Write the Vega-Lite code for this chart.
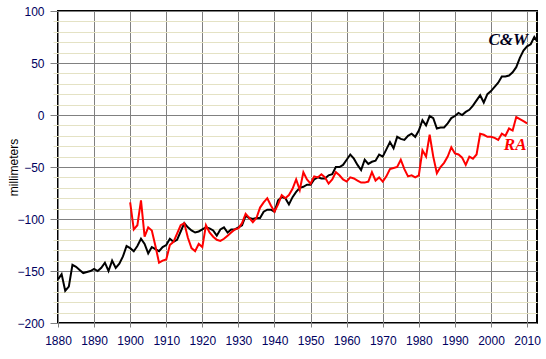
{
  "$schema": "https://vega.github.io/schema/vega-lite/v6.json",
  "autosize": "none",
  "width": 479,
  "height": 312,
  "padding": {"left": 58, "top": 11, "right": 9, "bottom": 36},
  "background": "white",
  "config": {
    "view": {"stroke": "black", "strokeWidth": 2},
    "font": "Liberation Sans"
  },
  "resolve": {"axis": {"y": "independent"}, "scale": {"y": "shared"}},
  "datasets": {
    "cw": [
      {"year":1880,"mm":-158},{"year":1881,"mm":-153},{"year":1882,"mm":-169},{"year":1883,"mm":-165},{"year":1884,"mm":-144},
      {"year":1885,"mm":-146},{"year":1886,"mm":-149},{"year":1887,"mm":-152},{"year":1888,"mm":-151},{"year":1889,"mm":-150},
      {"year":1890,"mm":-148},{"year":1891,"mm":-150},{"year":1892,"mm":-147},{"year":1893,"mm":-142},{"year":1894,"mm":-150},
      {"year":1895,"mm":-140},{"year":1896,"mm":-147},{"year":1897,"mm":-143},{"year":1898,"mm":-136},{"year":1899,"mm":-126},
      {"year":1900,"mm":-128},{"year":1901,"mm":-131},{"year":1902,"mm":-126},{"year":1903,"mm":-119},{"year":1904,"mm":-124},
      {"year":1905,"mm":-133},{"year":1906,"mm":-127},{"year":1907,"mm":-129},{"year":1908,"mm":-131},{"year":1909,"mm":-127},
      {"year":1910,"mm":-125},{"year":1911,"mm":-119},{"year":1912,"mm":-122},{"year":1913,"mm":-120},{"year":1914,"mm":-112},
      {"year":1915,"mm":-104},{"year":1916,"mm":-108},{"year":1917,"mm":-111},{"year":1918,"mm":-113},{"year":1919,"mm":-112},
      {"year":1920,"mm":-110},{"year":1921,"mm":-108},{"year":1922,"mm":-109},{"year":1923,"mm":-111},{"year":1924,"mm":-116},
      {"year":1925,"mm":-110},{"year":1926,"mm":-108},{"year":1927,"mm":-113},{"year":1928,"mm":-110},{"year":1929,"mm":-110},
      {"year":1930,"mm":-108},{"year":1931,"mm":-106},{"year":1932,"mm":-97},{"year":1933,"mm":-99},{"year":1934,"mm":-100},
      {"year":1935,"mm":-99},{"year":1936,"mm":-99},{"year":1937,"mm":-93},{"year":1938,"mm":-91},{"year":1939,"mm":-91},
      {"year":1940,"mm":-93},{"year":1941,"mm":-82},{"year":1942,"mm":-79},{"year":1943,"mm":-80},{"year":1944,"mm":-86},
      {"year":1945,"mm":-79},{"year":1946,"mm":-74},{"year":1947,"mm":-70},{"year":1948,"mm":-69},{"year":1949,"mm":-67},
      {"year":1950,"mm":-67},{"year":1951,"mm":-62},{"year":1952,"mm":-60},{"year":1953,"mm":-61},{"year":1954,"mm":-61},
      {"year":1955,"mm":-58},{"year":1956,"mm":-57},{"year":1957,"mm":-50},{"year":1958,"mm":-50},{"year":1959,"mm":-48},
      {"year":1960,"mm":-43},{"year":1961,"mm":-38},{"year":1962,"mm":-42},{"year":1963,"mm":-48},{"year":1964,"mm":-53},
      {"year":1965,"mm":-43},{"year":1966,"mm":-47},{"year":1967,"mm":-45},{"year":1968,"mm":-44},{"year":1969,"mm":-38},
      {"year":1970,"mm":-40},{"year":1971,"mm":-33},{"year":1972,"mm":-26},{"year":1973,"mm":-32},{"year":1974,"mm":-21},
      {"year":1975,"mm":-23},{"year":1976,"mm":-24},{"year":1977,"mm":-20},{"year":1978,"mm":-18},{"year":1979,"mm":-21},
      {"year":1980,"mm":-15},{"year":1981,"mm":-5},{"year":1982,"mm":-10},{"year":1983,"mm":-1},{"year":1984,"mm":-3},
      {"year":1985,"mm":-13},{"year":1986,"mm":-12},{"year":1987,"mm":-12},{"year":1988,"mm":-8},{"year":1989,"mm":-3},
      {"year":1990,"mm":-1},{"year":1991,"mm":2},{"year":1992,"mm":0},{"year":1993,"mm":3},{"year":1994,"mm":5},
      {"year":1995,"mm":9},{"year":1996,"mm":14},{"year":1997,"mm":19},{"year":1998,"mm":12},{"year":1999,"mm":20},
      {"year":2000,"mm":23},{"year":2001,"mm":27},{"year":2002,"mm":31},{"year":2003,"mm":37},{"year":2004,"mm":37},
      {"year":2005,"mm":38},{"year":2006,"mm":41},{"year":2007,"mm":46},{"year":2008,"mm":55},{"year":2009,"mm":62},
      {"year":2010,"mm":66},{"year":2011,"mm":68},{"year":2012,"mm":75},{"year":2012.75,"mm":71}
    ],
    "ra": [
      {"year":1900,"mm":-84},{"year":1901,"mm":-110},{"year":1902,"mm":-106},{"year":1903,"mm":-82},{"year":1904,"mm":-117},
      {"year":1905,"mm":-108},{"year":1906,"mm":-111},{"year":1907,"mm":-126},{"year":1908,"mm":-142},{"year":1909,"mm":-140},
      {"year":1910,"mm":-139},{"year":1911,"mm":-125},{"year":1912,"mm":-122},{"year":1913,"mm":-114},{"year":1914,"mm":-106},
      {"year":1915,"mm":-104},{"year":1916,"mm":-118},{"year":1917,"mm":-128},{"year":1918,"mm":-131},{"year":1919,"mm":-124},
      {"year":1920,"mm":-127},{"year":1921,"mm":-106},{"year":1922,"mm":-113},{"year":1923,"mm":-117},{"year":1924,"mm":-120},
      {"year":1925,"mm":-121},{"year":1926,"mm":-119},{"year":1927,"mm":-116},{"year":1928,"mm":-113},{"year":1929,"mm":-110},
      {"year":1930,"mm":-109},{"year":1931,"mm":-104},{"year":1932,"mm":-95},{"year":1933,"mm":-99},{"year":1934,"mm":-103},
      {"year":1935,"mm":-99},{"year":1936,"mm":-89},{"year":1937,"mm":-84},{"year":1938,"mm":-80},{"year":1939,"mm":-87},
      {"year":1940,"mm":-93},{"year":1941,"mm":-86},{"year":1942,"mm":-77},{"year":1943,"mm":-80},{"year":1944,"mm":-77},
      {"year":1945,"mm":-71},{"year":1946,"mm":-62},{"year":1947,"mm":-72},{"year":1948,"mm":-55},{"year":1949,"mm":-62},
      {"year":1950,"mm":-66},{"year":1951,"mm":-59},{"year":1952,"mm":-60},{"year":1953,"mm":-57},{"year":1954,"mm":-60},
      {"year":1955,"mm":-66},{"year":1956,"mm":-62},{"year":1957,"mm":-55},{"year":1958,"mm":-58},{"year":1959,"mm":-62},
      {"year":1960,"mm":-64},{"year":1961,"mm":-60},{"year":1962,"mm":-61},{"year":1963,"mm":-63},{"year":1964,"mm":-65},
      {"year":1965,"mm":-65},{"year":1966,"mm":-64},{"year":1967,"mm":-55},{"year":1968,"mm":-63},{"year":1969,"mm":-60},
      {"year":1970,"mm":-64},{"year":1971,"mm":-59},{"year":1972,"mm":-52},{"year":1973,"mm":-51},{"year":1974,"mm":-50},
      {"year":1975,"mm":-43},{"year":1976,"mm":-52},{"year":1977,"mm":-59},{"year":1978,"mm":-58},{"year":1979,"mm":-60},
      {"year":1980,"mm":-58},{"year":1981,"mm":-34},{"year":1982,"mm":-40},{"year":1983,"mm":-19},{"year":1984,"mm":-40},
      {"year":1985,"mm":-56},{"year":1986,"mm":-50},{"year":1987,"mm":-46},{"year":1988,"mm":-40},{"year":1989,"mm":-31},
      {"year":1990,"mm":-37},{"year":1991,"mm":-38},{"year":1992,"mm":-41},{"year":1993,"mm":-48},{"year":1994,"mm":-40},
      {"year":1995,"mm":-42},{"year":1996,"mm":-38},{"year":1997,"mm":-18},{"year":1998,"mm":-19},{"year":1999,"mm":-21},
      {"year":2000,"mm":-21},{"year":2001,"mm":-22},{"year":2002,"mm":-24},{"year":2003,"mm":-18},{"year":2004,"mm":-20},
      {"year":2005,"mm":-13},{"year":2006,"mm":-15},{"year":2007,"mm":-2},{"year":2008,"mm":-4},{"year":2009,"mm":-6},
      {"year":2010,"mm":-8}
    ],
    "labels": [
      {"year":2004.8,"mm":72,"label":"C&W","series":"C&W"},
      {"year":2006.7,"mm":-29,"label":"RA","series":"RA"}
    ]
  },
  "encoding": {
    "x": {
      "field": "year", "type": "quantitative",
      "scale": {"domain": [1880, 2012.75], "nice": false, "zero": false},
      "axis": {
        "values": [1880,1890,1900,1910,1920,1930,1940,1950,1960,1970,1980,1990,2000,2010],
        "format": "d", "title": null,
        "grid": true, "gridColor": "#808080", "gridWidth": 1,
        "domain": false,
        "tickColor": "#808080", "tickSize": 4, "tickWidth": 1,
        "labelFont": "Liberation Sans", "labelFontSize": 12, "labelColor": "#000060",
        "labelPadding": 8, "labelFlush": false, "labelOverlap": false
      }
    }
  },
  "layer": [
    {
      "data": {"name": "ra"},
      "mark": {"type": "line", "color": "#ff0000", "strokeWidth": 2, "opacity": 0},
      "encoding": {
        "y": {
          "field": "mm", "type": "quantitative",
          "scale": {"domain": [-200, 100], "nice": false, "zero": false},
          "axis": {
            "orient": "left",
            "values": [-190,-180,-170,-160,-140,-130,-120,-110,-90,-80,-70,-60,-40,-30,-20,-10,10,20,30,40,60,70,80,90],
            "title": null, "labels": false,
            "grid": true, "gridColor": "#e4e2c4", "gridWidth": 1,
            "domain": false,
            "tickColor": "#e4e2c4", "tickSize": 5, "tickWidth": 1
          }
        }
      }
    },
    {
      "data": {"name": "cw"},
      "mark": {"type": "line", "color": "black", "strokeWidth": 2},
      "encoding": {
        "y": {
          "field": "mm", "type": "quantitative",
          "axis": {
            "orient": "left",
            "values": [-200,-150,-100,-50,0,50,100],
            "title": "millimeters", "titleFont": "Liberation Sans", "titleFontSize": 12,
            "titleFontWeight": "normal", "titleColor": "black",
            "titleX": -45, "titleY": 156, "titleAngle": -90, "titleAlign": "center", "titleBaseline": "middle",
            "grid": true, "gridColor": "#808080", "gridWidth": 1,
            "domain": false,
            "tickColor": "#808080", "tickSize": 8, "tickWidth": 1,
            "labelFont": "Liberation Sans", "labelFontSize": 12, "labelColor": "#000060",
            "labelPadding": 6, "labelFlush": false, "labelOverlap": false
          }
        }
      }
    },
    {
      "data": {"name": "ra"},
      "mark": {"type": "line", "color": "#ff0000", "strokeWidth": 2},
      "encoding": {
        "y": {"field": "mm", "type": "quantitative", "axis": null}
      }
    },
    {
      "data": {"name": "labels"},
      "mark": {"type": "text", "font": "Liberation Serif", "fontSize": 17, "fontWeight": "bold", "fontStyle": "italic", "align": "center", "baseline": "middle"},
      "encoding": {
        "y": {"field": "mm", "type": "quantitative", "axis": null},
        "text": {"field": "label"},
        "color": {"field": "series", "type": "nominal", "scale": {"domain": ["C&W", "RA"], "range": ["#000020", "#ff0000"]}, "legend": null}
      }
    }
  ]
}
